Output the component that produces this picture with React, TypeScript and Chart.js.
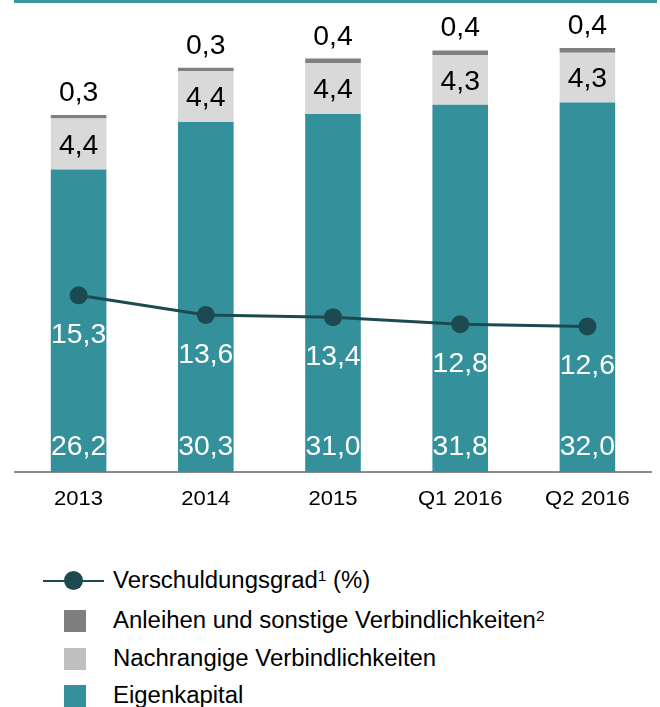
import React, { useEffect, useRef } from "react";
import { Chart, registerables } from "chart.js";

Chart.register(...registerables);

const categories = ["2013", "2014", "2015", "Q1 2016", "Q2 2016"];
const eigenkapital = [26.2, 30.3, 31.0, 31.8, 32.0];
const nachrangige = [4.4, 4.4, 4.4, 4.3, 4.3];
const anleihen = [0.3, 0.3, 0.4, 0.4, 0.4];
const verschuldungsgrad = [15.3, 13.6, 13.4, 12.8, 12.6];

const FONT = '"Liberation Sans", Arial, Helvetica, sans-serif';
const STRETCH = 1.05;
const TEAL = "#34909b";
const LIGHT = "#d9d9d9";
const DARK = "#808080";
const LINE = "#1d4a50";

const fmt = (v: number) => v.toFixed(1).replace(".", ",");

function drawText(ctx: CanvasRenderingContext2D, text: string, x: number, yCenter: number, size: number, color: string) {
  ctx.save();
  ctx.font = `${size}px ${FONT}`;
  ctx.fillStyle = color;
  ctx.textAlign = "center";
  ctx.textBaseline = "alphabetic";
  ctx.translate(x, yCenter + 0.358 * size);
  ctx.scale(STRETCH, 1);
  ctx.fillText(text, 0, 0);
  ctx.restore();
}

const LBL = 27;

const labelPlugin = {
  id: "labelPlugin",
  afterDatasetsDraw(chart: any) {
    const ctx = chart.ctx as CanvasRenderingContext2D;
    const mN = chart.getDatasetMeta(1);
    const mA = chart.getDatasetMeta(2);
    const mL = chart.getDatasetMeta(3);
    const base = chart.scales.y.getPixelForValue(0);
    for (let i = 0; i < categories.length; i++) {
      const x = chart.scales.x.getPixelForValue(i);
      drawText(ctx, fmt(eigenkapital[i]), x, base - 26.5, LBL, "#ffffff");
      const n = mN.data[i];
      drawText(ctx, fmt(nachrangige[i]), x, (n.y + n.base) / 2, LBL, "#000000");
      const a = mA.data[i];
      drawText(ctx, fmt(anleihen[i]), x, a.y - 14 - 0.358 * LBL, LBL, "#000000");
      const p = mL.data[i];
      drawText(ctx, fmt(verschuldungsgrad[i]), x, p.y + 38, LBL, "#ffffff");
      drawText(ctx, categories[i], x, base + 25, 21, "#000000");
    }
  },
};

function App() {
  const ref = useRef<HTMLCanvasElement | null>(null);

  useEffect(() => {
    if (!ref.current) return;
    const chart = new Chart(ref.current, {
      type: "bar",
      data: {
        labels: categories,
        datasets: [
          {
            type: "bar",
            label: "Eigenkapital",
            data: eigenkapital,
            backgroundColor: TEAL,
            stack: "bars",
            order: 1,
          },
          {
            type: "bar",
            label: "Nachrangige Verbindlichkeiten",
            data: nachrangige,
            backgroundColor: LIGHT,
            stack: "bars",
            order: 1,
          },
          {
            type: "bar",
            label: "Anleihen und sonstige Verbindlichkeiten",
            data: anleihen,
            backgroundColor: DARK,
            stack: "bars",
            order: 1,
          },
          {
            type: "line",
            label: "Verschuldungsgrad (%)",
            data: verschuldungsgrad,
            borderColor: LINE,
            backgroundColor: LINE,
            borderWidth: 3,
            pointRadius: 9,
            pointBorderWidth: 0,
            pointBackgroundColor: LINE,
            tension: 0,
            stack: "line",
            order: 0,
          } as any,
        ],
      },
      options: {
        animation: false,
        responsive: false,
        maintainAspectRatio: false,
        layout: { padding: { left: 15, right: 4, top: 10, bottom: 0 } },
        datasets: {
          bar: { categoryPercentage: 1, barPercentage: 0.437 },
        },
        plugins: {
          legend: { display: false },
          tooltip: { enabled: false },
        },
        scales: {
          x: {
            stacked: true,
            grid: { display: false, drawTicks: false },
            border: { display: true, color: "#8c8c8c", width: 2 },
            ticks: { display: false },
            afterFit: (scale: any) => {
              scale.height = 48;
            },
          },
          y: {
            display: false,
            stacked: true,
            min: 0,
            max: 40,
          },
        },
      },
      plugins: [labelPlugin],
    });
    return () => chart.destroy();
  }, []);

  const textStyle = (center: number): React.CSSProperties => ({
    position: "absolute",
    left: 113,
    top: center - 13.5,
    fontFamily: FONT,
    fontSize: 23,
    lineHeight: "27px",
    color: "#000",
    whiteSpace: "nowrap",
    transform: `scaleX(1.04)`,
    transformOrigin: "left center",
  });
  const sup: React.CSSProperties = { fontSize: 15, position: "relative", top: -7 };
  const swatch = (center: number, color: string): React.CSSProperties => ({
    position: "absolute",
    left: 64,
    top: center - 11,
    width: 22,
    height: 22,
    background: color,
  });

  return (
    <div style={{ position: "absolute", left: 0, top: 0, width: 660, height: 707, overflow: "hidden", background: "#fff" }}>
      <div style={{ position: "absolute", left: 14, top: 0, width: 643, height: 3, background: "#3a969f" }} />
      <canvas ref={ref} width={660} height={520} style={{ position: "absolute", left: 0, top: 0 }} />
      <div style={{ position: "absolute", left: 43, top: 579.5, width: 61, height: 2.5, background: LINE }} />
      <div style={{ position: "absolute", left: 64, top: 571, width: 19, height: 19, borderRadius: "50%", background: LINE }} />
      <div style={textStyle(580)}>
        Verschuldungsgrad<span style={sup}>1</span> (%)
      </div>
      <div style={swatch(620.5, "#7f7f7f")} />
      <div style={textStyle(620.5)}>
        Anleihen und sonstige Verbindlichkeiten<span style={sup}>2</span>
      </div>
      <div style={swatch(658.5, "#bfbfbf")} />
      <div style={textStyle(658.5)}>Nachrangige Verbindlichkeiten</div>
      <div style={swatch(695.5, TEAL)} />
      <div style={textStyle(695.5)}>Eigenkapital</div>
    </div>
  );
}

export default App;
